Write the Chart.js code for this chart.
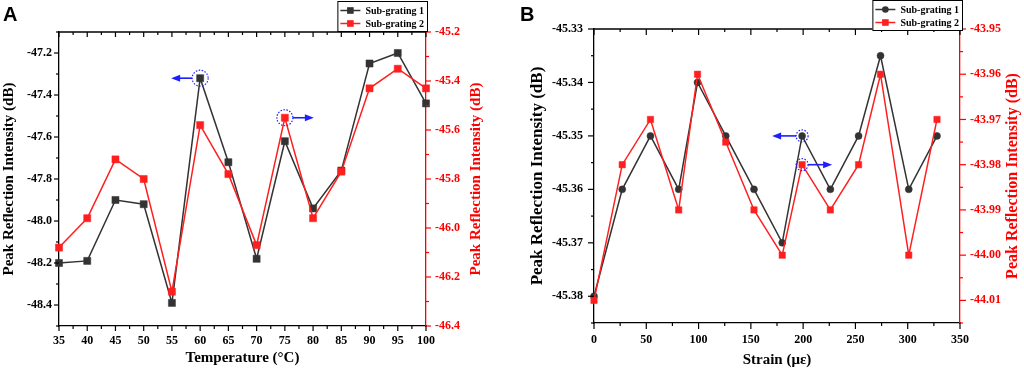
<!DOCTYPE html>
<html>
<head>
<meta charset="utf-8">
<script src="https://cdn.jsdelivr.net/npm/chart.js@4.4.1/dist/chart.umd.min.js"></script>
<style>
  html, body { margin: 0; padding: 0; background: #fff; }
  #wrap { position: relative; width: 1024px; height: 371px; overflow: hidden; }
  canvas { position: absolute; top: 0; }
  #cA { left: 0; }
  #cB { left: 512px; }
</style>
</head>
<body>
<div id="wrap">
  <canvas id="cA" width="512" height="371"></canvas>
  <canvas id="cB" width="512" height="371"></canvas>
</div>
<script>
// Peak reflection intensity of two sub-gratings vs temperature (A) and strain (B)

// Panel A - temperature (°C)
const tempC = [35, 40, 45, 50, 55, 60, 65, 70, 75, 80, 85, 90, 95, 100];
const tempSub1 = [-48.20, -48.19, -47.90, -47.92, -48.39, -47.32, -47.72, -48.18, -47.62, -47.94, -47.76, -47.25, -47.20, -47.44];
const tempSub2 = [-46.08, -45.96, -45.72, -45.80, -46.26, -45.58, -45.78, -46.07, -45.55, -45.96, -45.77, -45.43, -45.35, -45.43];

// Panel B - strain (µε)
const strain = [0, 27, 54, 81, 99, 126, 153, 180, 199, 226, 253, 274, 301, 328];
const strainSub1 = [-45.38, -45.36, -45.35, -45.36, -45.34, -45.35, -45.36, -45.37, -45.35, -45.36, -45.35, -45.335, -45.36, -45.35];
const strainSub2 = [-44.01, -43.98, -43.97, -43.99, -43.96, -43.975, -43.99, -44.00, -43.98, -43.99, -43.98, -43.96, -44.00, -43.97];

// highlighted points: dataset index, point index, arrow direction
const marksA = [{ ds: 0, idx: 5, dir: -1 }, { ds: 1, idx: 8, dir: 1 }];
const marksB = [{ ds: 0, idx: 8, dir: -1 }, { ds: 1, idx: 8, dir: 1 }];

const SERIF = "'Liberation Serif', 'Times New Roman', serif";
const SANS = "'Liberation Sans', Arial, sans-serif";
const BLACK = '#333333';
const RED = '#ff1f1f';
const AXIS_RED = '#ff0000';
const BLUE = '#1e1eff';
const Y_TITLE = 'Peak Reflection Intensity (dB)';

const decor = {
    id: 'decor',
    afterDraw(chart, args, o) {
        const ctx = chart.ctx;
        const a = chart.chartArea;
        const sx = chart.scales.x, sy = chart.scales.y, sy1 = chart.scales.y1;
        const seg = (x1, y1, x2, y2) => { ctx.beginPath(); ctx.moveTo(x1, y1); ctx.lineTo(x2, y2); ctx.stroke(); };
        ctx.save();

        // top frame line + tick marks
        ctx.strokeStyle = '#000';
        ctx.lineWidth = 1.3;
        seg(a.left, a.top, a.right, a.top);
        ctx.lineWidth = 1.2;
        sx.ticks.forEach(t => {
            const p = sx.getPixelForValue(t.value);
            const len = t.label !== '' ? o.major : o.minor;
            seg(p, a.bottom, p, a.bottom + len);
            seg(p, a.top, p, a.top + len);
        });
        sy.ticks.forEach(t => {
            const p = sy.getPixelForValue(t.value);
            const len = t.label !== '' ? o.major : o.minor;
            seg(a.left - len, p, a.left, p);
        });
        ctx.strokeStyle = AXIS_RED;
        sy1.ticks.forEach(t => {
            const p = sy1.getPixelForValue(t.value);
            const len = t.label !== '' ? o.major : o.minor;
            seg(a.right, p, a.right + len, p);
        });

        // right axis title, reading bottom to top
        ctx.save();
        ctx.translate(a.right + o.rtOffset, (a.top + a.bottom) / 2);
        ctx.rotate(-Math.PI / 2);
        ctx.fillStyle = AXIS_RED;
        ctx.font = 'bold ' + o.rtSize + 'px ' + SERIF;
        ctx.textAlign = 'center';
        ctx.textBaseline = 'middle';
        ctx.fillText(Y_TITLE, 0, 0);
        ctx.restore();

        // panel letter
        ctx.fillStyle = '#000';
        ctx.font = 'bold 20px ' + SANS;
        ctx.textAlign = 'left';
        ctx.textBaseline = 'alphabetic';
        ctx.fillText(o.letter, o.letterX, 21);

        // dotted circles + arrows pointing to the matching axis
        o.marks.forEach(m => {
            const pt = chart.getDatasetMeta(m.ds).data[m.idx];
            const cx = pt.x, cy = pt.y, r = o.circleR;
            ctx.strokeStyle = BLUE;
            ctx.lineWidth = 1.2;
            ctx.setLineDash([1.5, 1.5]);
            ctx.beginPath(); ctx.arc(cx, cy, r, 0, Math.PI * 2); ctx.stroke();
            ctx.setLineDash([]);
            const x0 = cx + m.dir * r;
            const x1 = cx + m.dir * (r + o.arrowLen);
            ctx.lineWidth = 1.6;
            seg(x0, cy, x1 - m.dir * 6, cy);
            ctx.fillStyle = BLUE;
            ctx.beginPath();
            ctx.moveTo(x1, cy);
            ctx.lineTo(x1 - m.dir * 9, cy - 3.5);
            ctx.lineTo(x1 - m.dir * 9, cy + 3.5);
            ctx.closePath();
            ctx.fill();
        });

        // legend box
        const ds = chart.data.datasets;
        ctx.font = 'bold 10px ' + SERIF;
        const textW = Math.max(...ds.map(d => ctx.measureText(d.label).width));
        const pad = 3, sample = 20, gap = 5, rowH = 13;
        const w = pad + sample + gap + textW + pad;
        const right = a.right + o.legRight;
        const left = right - w;
        const top = o.legTop;
        ctx.fillStyle = '#fff';
        ctx.fillRect(left, top, w, rowH * 2 + 4);
        ctx.strokeStyle = '#000';
        ctx.lineWidth = 1;
        ctx.strokeRect(left + 0.5, top + 0.5, w, rowH * 2 + 4);
        ds.forEach((d, i) => {
            const y = top + 3 + rowH * i + rowH / 2;
            const mx = left + pad + sample / 2;
            ctx.strokeStyle = d.borderColor;
            ctx.lineWidth = 1.5;
            seg(left + pad, y, left + pad + sample, y);
            ctx.fillStyle = d.backgroundColor;
            if (d.pointStyle === 'circle') {
                ctx.beginPath(); ctx.arc(mx, y, 3.3, 0, Math.PI * 2); ctx.fill();
            } else {
                ctx.fillRect(mx - 3.3, y - 3.3, 6.6, 6.6);
            }
            ctx.fillStyle = '#000';
            ctx.textBaseline = 'middle';
            ctx.fillText(d.label, left + pad + sample + gap, y + 0.5);
        });
        ctx.restore();
    }
};

function tickFont() {
    return { family: SERIF, weight: 'bold', size: 12 };
}

function panel(id, p) {
    return new Chart(document.getElementById(id), {
        type: 'line',
        data: {
            datasets: [
                {
                    label: 'Sub-grating 1',
                    data: p.xs.map((x, i) => ({ x: x, y: p.s1[i] })),
                    yAxisID: 'y',
                    borderColor: BLACK, backgroundColor: BLACK,
                    pointBackgroundColor: BLACK, pointBorderColor: BLACK,
                    pointStyle: p.style1, pointRadius: p.r1, pointBorderWidth: 0.5,
                    borderWidth: 1.5, tension: 0, clip: false, order: 1
                },
                {
                    label: 'Sub-grating 2',
                    data: p.xs.map((x, i) => ({ x: x, y: p.s2[i] })),
                    yAxisID: 'y1',
                    borderColor: RED, backgroundColor: RED,
                    pointBackgroundColor: RED, pointBorderColor: RED,
                    pointStyle: 'rect', pointRadius: p.r2, pointBorderWidth: 0.5,
                    borderWidth: 1.5, tension: 0, clip: false, order: 0
                }
            ]
        },
        options: {
            responsive: false,
            animation: false,
            events: [],
            layout: { padding: { top: p.top, left: 0, right: 0, bottom: 0 } },
            plugins: {
                legend: { display: false },
                tooltip: { enabled: false },
                decor: p.decor
            },
            scales: {
                x: {
                    type: 'linear', position: 'bottom',
                    min: p.xMin, max: p.xMax,
                    afterFit: s => { s.height = p.xH; },
                    grid: { display: false, drawTicks: false },
                    border: { display: true, color: '#000', width: 1.3 },
                    ticks: {
                        stepSize: p.xStep, autoSkip: false, maxRotation: 0,
                        padding: p.xPad, color: '#000', font: tickFont(),
                        callback: v => (Math.round(v * 10) % Math.round(p.xMajor * 10) === 0 ? v : '')
                    },
                    title: {
                        display: true, text: p.xTitle, color: '#000',
                        font: { family: SERIF, weight: 'bold', size: 15 },
                        padding: { top: 0, bottom: p.xTitlePad }
                    }
                },
                y: {
                    position: 'left',
                    min: p.yMin, max: p.yMax,
                    afterFit: s => { s.width = p.yW; },
                    grid: { display: false, drawTicks: false },
                    border: { display: true, color: '#000', width: 1.3 },
                    ticks: {
                        stepSize: p.yStep, autoSkip: false,
                        padding: p.yPad, color: '#000', font: tickFont(),
                        callback: v => {
                            const r = Math.round(v / p.yStep);
                            return r % 2 === 0 ? v.toFixed(p.dec) : '';
                        }
                    },
                    title: {
                        display: true, text: Y_TITLE, color: '#000',
                        font: { family: SERIF, weight: 'bold', size: p.yTitleSize },
                        padding: { top: p.yTitlePad, bottom: 0 }
                    }
                },
                y1: {
                    position: 'right',
                    min: p.y1Min, max: p.y1Max,
                    afterFit: s => { s.width = p.y1W; },
                    grid: { display: false, drawTicks: false },
                    border: { display: true, color: AXIS_RED, width: 1.3 },
                    ticks: {
                        stepSize: p.yStep, autoSkip: false,
                        padding: p.y1Pad, color: AXIS_RED, font: tickFont(),
                        callback: v => {
                            const r = Math.round(v / p.yStep);
                            return r % 2 === 0 ? v.toFixed(p.dec) : '';
                        }
                    }
                }
            }
        },
        plugins: [decor]
    });
}

panel('cA', {
    xs: tempC, s1: tempSub1, s2: tempSub2,
    style1: 'rect', r1: 5, r2: 5,
    top: 32, xH: 45, yW: 59, y1W: 86,
    xMin: 35, xMax: 100, xStep: 2.5, xMajor: 5, xPad: 8,
    xTitle: 'Temperature (°C)', xTitlePad: 4,
    yMin: -48.5, yMax: -47.1, y1Min: -46.4, y1Max: -45.2,
    yStep: 0.1, dec: 1, yPad: 7, y1Pad: 9,
    yTitleSize: 15, yTitlePad: 0,
    decor: {
        major: 5, minor: 3, rtOffset: 50, rtSize: 15,
        letter: 'A', letterX: 3,
        marks: marksA, circleR: 8, arrowLen: 21,
        legRight: 1, legTop: 1
    }
});

panel('cB', {
    xs: strain, s1: strainSub1, s2: strainSub2,
    style1: 'circle', r1: 3.5, r2: 4.5,
    top: 29, xH: 48, yW: 82, y1W: 64,
    xMin: 0, xMax: 350, xStep: 25, xMajor: 50, xPad: 10,
    xTitle: 'Strain (με)', xTitlePad: 2,
    yMin: -45.385, yMax: -45.33, y1Min: -44.015, y1Max: -43.95,
    yStep: 0.005, dec: 2, yPad: 11, y1Pad: 10,
    yTitleSize: 17, yTitlePad: 15,
    decor: {
        major: 6, minor: 3, rtOffset: 53, rtSize: 16,
        letter: 'B', letterX: 8,
        marks: marksB, circleR: 6, arrowLen: 24,
        legRight: 2, legTop: 0
    }
});
</script>
</body>
</html>
